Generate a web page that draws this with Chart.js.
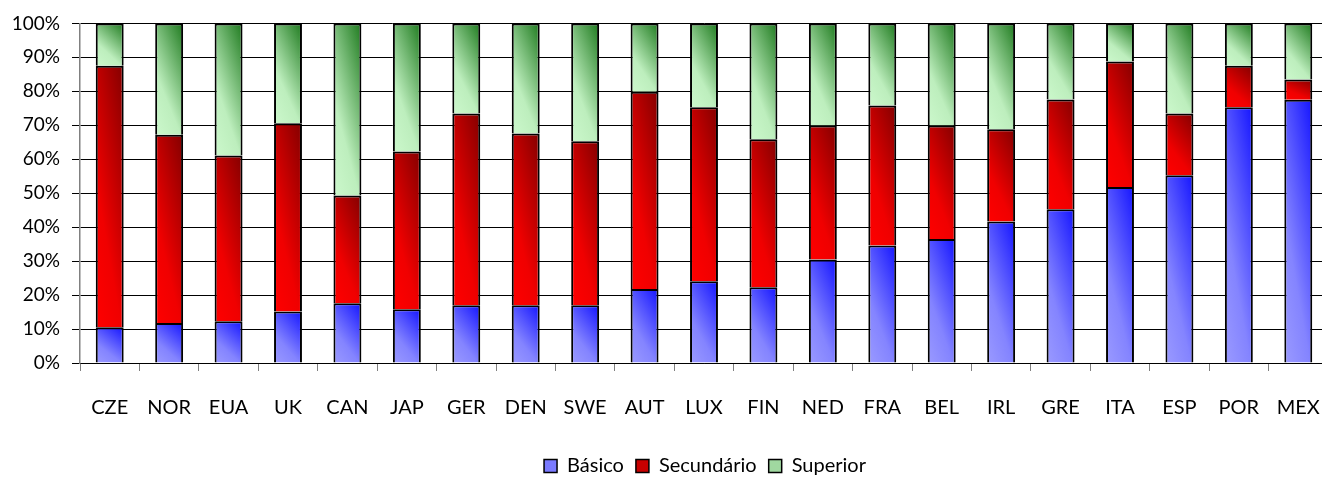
<!DOCTYPE html>
<html>
<head>
<meta charset="utf-8">
<script src="https://cdn.jsdelivr.net/npm/chart.js@4/dist/chart.umd.min.js"></script>
<style>
html,body{margin:0;padding:0;background:#fff;overflow:hidden;width:1322px;height:479px;}
#wrap{position:relative;width:1328px;height:486px;}
</style>
</head>
<body>
<div id="wrap"><canvas id="c"></canvas></div>
<script>
const categories = ["CZE","NOR","EUA","UK","CAN","JAP","GER","DEN","SWE","AUT","LUX","FIN","NED","FRA","BEL","IRL","GRE","ITA","ESP","POR","MEX"];
const basico     = [10.5,11.8,12.3,15.2,17.6,15.8,17.0,17.0,17.0,21.8,24.1,22.3,30.5,34.6,36.5,41.7,45.3,51.8,55.3,75.3,77.5];
const secundario = [77.0,55.4,48.8,55.4,31.7,46.5,56.5,50.6,48.3,58.1,51.2,43.6,39.4,41.2,33.4,27.1,32.3,37.0,18.2,12.2,6.0];
const superior   = [12.5,32.8,38.9,29.4,50.7,37.7,26.5,32.4,34.7,20.1,24.7,34.1,30.1,24.2,30.1,31.2,22.4,11.2,26.5,12.5,16.5];
const yTicks = [0,10,20,30,40,50,60,70,80,90,100];
const legendColors = ['#7a7aff', '#c80000', '#a0d8a0'];

const BAR_PCT = 0.47;
const GA = 0.38, GB = 0.62; // weights of horizontal / vertical position in the gradient
function gradFill(stops, legendColor){
  return function(ctx){
    const chart = ctx.chart;
    const xs = chart.scales && chart.scales.x, ys = chart.scales && chart.scales.y;
    if (ctx.type !== 'data' || ctx.dataIndex === undefined || !xs || !ys || !chart.chartArea) return legendColor;
    const i = ctx.dataIndex, d = ctx.datasetIndex;
    let base = 0;
    for (let k = 0; k < d; k++) base += chart.data.datasets[k].data[i];
    const top = base + chart.data.datasets[d].data[i];
    const cx = xs.getPixelForValue(i);
    const w = (xs.width / categories.length) * BAR_PCT;
    const yb = ys.getPixelForValue(base), yt = ys.getPixelForValue(top);
    const h = Math.max(1, yb - yt);
    const x0 = cx - w / 2;
    const gx = GA / w, gy = -GB / h;
    const n = gx * gx + gy * gy;
    if (!isFinite(n) || n === 0) return legendColor;
    const g = chart.ctx.createLinearGradient(x0, yb, x0 + gx / n, yb + gy / n);
    stops.forEach(s => g.addColorStop(s[0], s[1]));
    return g;
  };
}

const legendShift = {
  id: 'legendShift',
  afterLayout(chart){
    const lg = chart.legend;
    if (lg) { lg.left += 41; lg.right += 41; }
  }
};

Chart.defaults.font.family = 'Lato, "DejaVu Sans", sans-serif';
Chart.defaults.color = '#000';

new Chart(document.getElementById('c'), {
  type: 'bar',
  data: {
    labels: categories,
    datasets: [
      {label:'Básico', data: basico, backgroundColor: gradFill([[0,'#9a9aff'],[0.35,'#8484ff'],[1,'#1414ff']], legendColors[0])},
      {label:'Secundário', data: secundario, backgroundColor: gradFill([[0,'#ff0000'],[0.35,'#f00000'],[1,'#830000']], legendColors[1])},
      {label:'Superior', data: superior, backgroundColor: gradFill([[0,'#ccf8cc'],[0.35,'#bdeebd'],[1,'#1e7a1e']], legendColors[2])}
    ]
  },
  plugins: [legendShift],
  options: {
    responsive: true,
    maintainAspectRatio: false,
    animation: false,
    devicePixelRatio: 1,
    layout: {padding: {top: 12, left: 0, right: 0, bottom: 0}},
    datasets: {bar: {barPercentage: BAR_PCT, categoryPercentage: 1, borderColor: '#000', borderWidth: 2, borderSkipped: 'start'}},
    plugins: {
      legend: {
        position: 'bottom',
        labels: {
          font: {size: 20}, boxWidth: 13, boxHeight: 13, padding: 12, color: '#000',
          generateLabels(chart){
            const items = Chart.defaults.plugins.legend.labels.generateLabels(chart);
            items.forEach((it, i) => { it.fillStyle = legendColors[i]; it.strokeStyle = '#000'; it.lineWidth = 1.5; });
            return items;
          }
        }
      },
      tooltip: {enabled: false}
    },
    scales: {
      x: {
        stacked: true,
        grid: {display: true, drawOnChartArea: false, drawTicks: true, tickLength: 8, color: '#808080', offset: true},
        border: {color: '#000', width: 1},
        ticks: {font: {size: 20}, padding: 25, maxRotation: 0, autoSkip: false},
        afterFit: function(s){ s.height = 81; s.paddingLeft = 0; s.paddingRight = 0; }
      },
      y: {
        stacked: true,
        min: 0, max: 100,
        afterBuildTicks: function(s){ s.ticks = yTicks.map(v => ({value: v})); },
        grid: {color: '#000', lineWidth: 1, tickLength: 8},
        border: {color: '#808080', width: 1.5},
        ticks: {font: {size: 19}, padding: 12, callback: v => v + '%'},
        afterFit: function(s){ s.width = 80; }
      }
    }
  }
});
</script>
</body>
</html>
